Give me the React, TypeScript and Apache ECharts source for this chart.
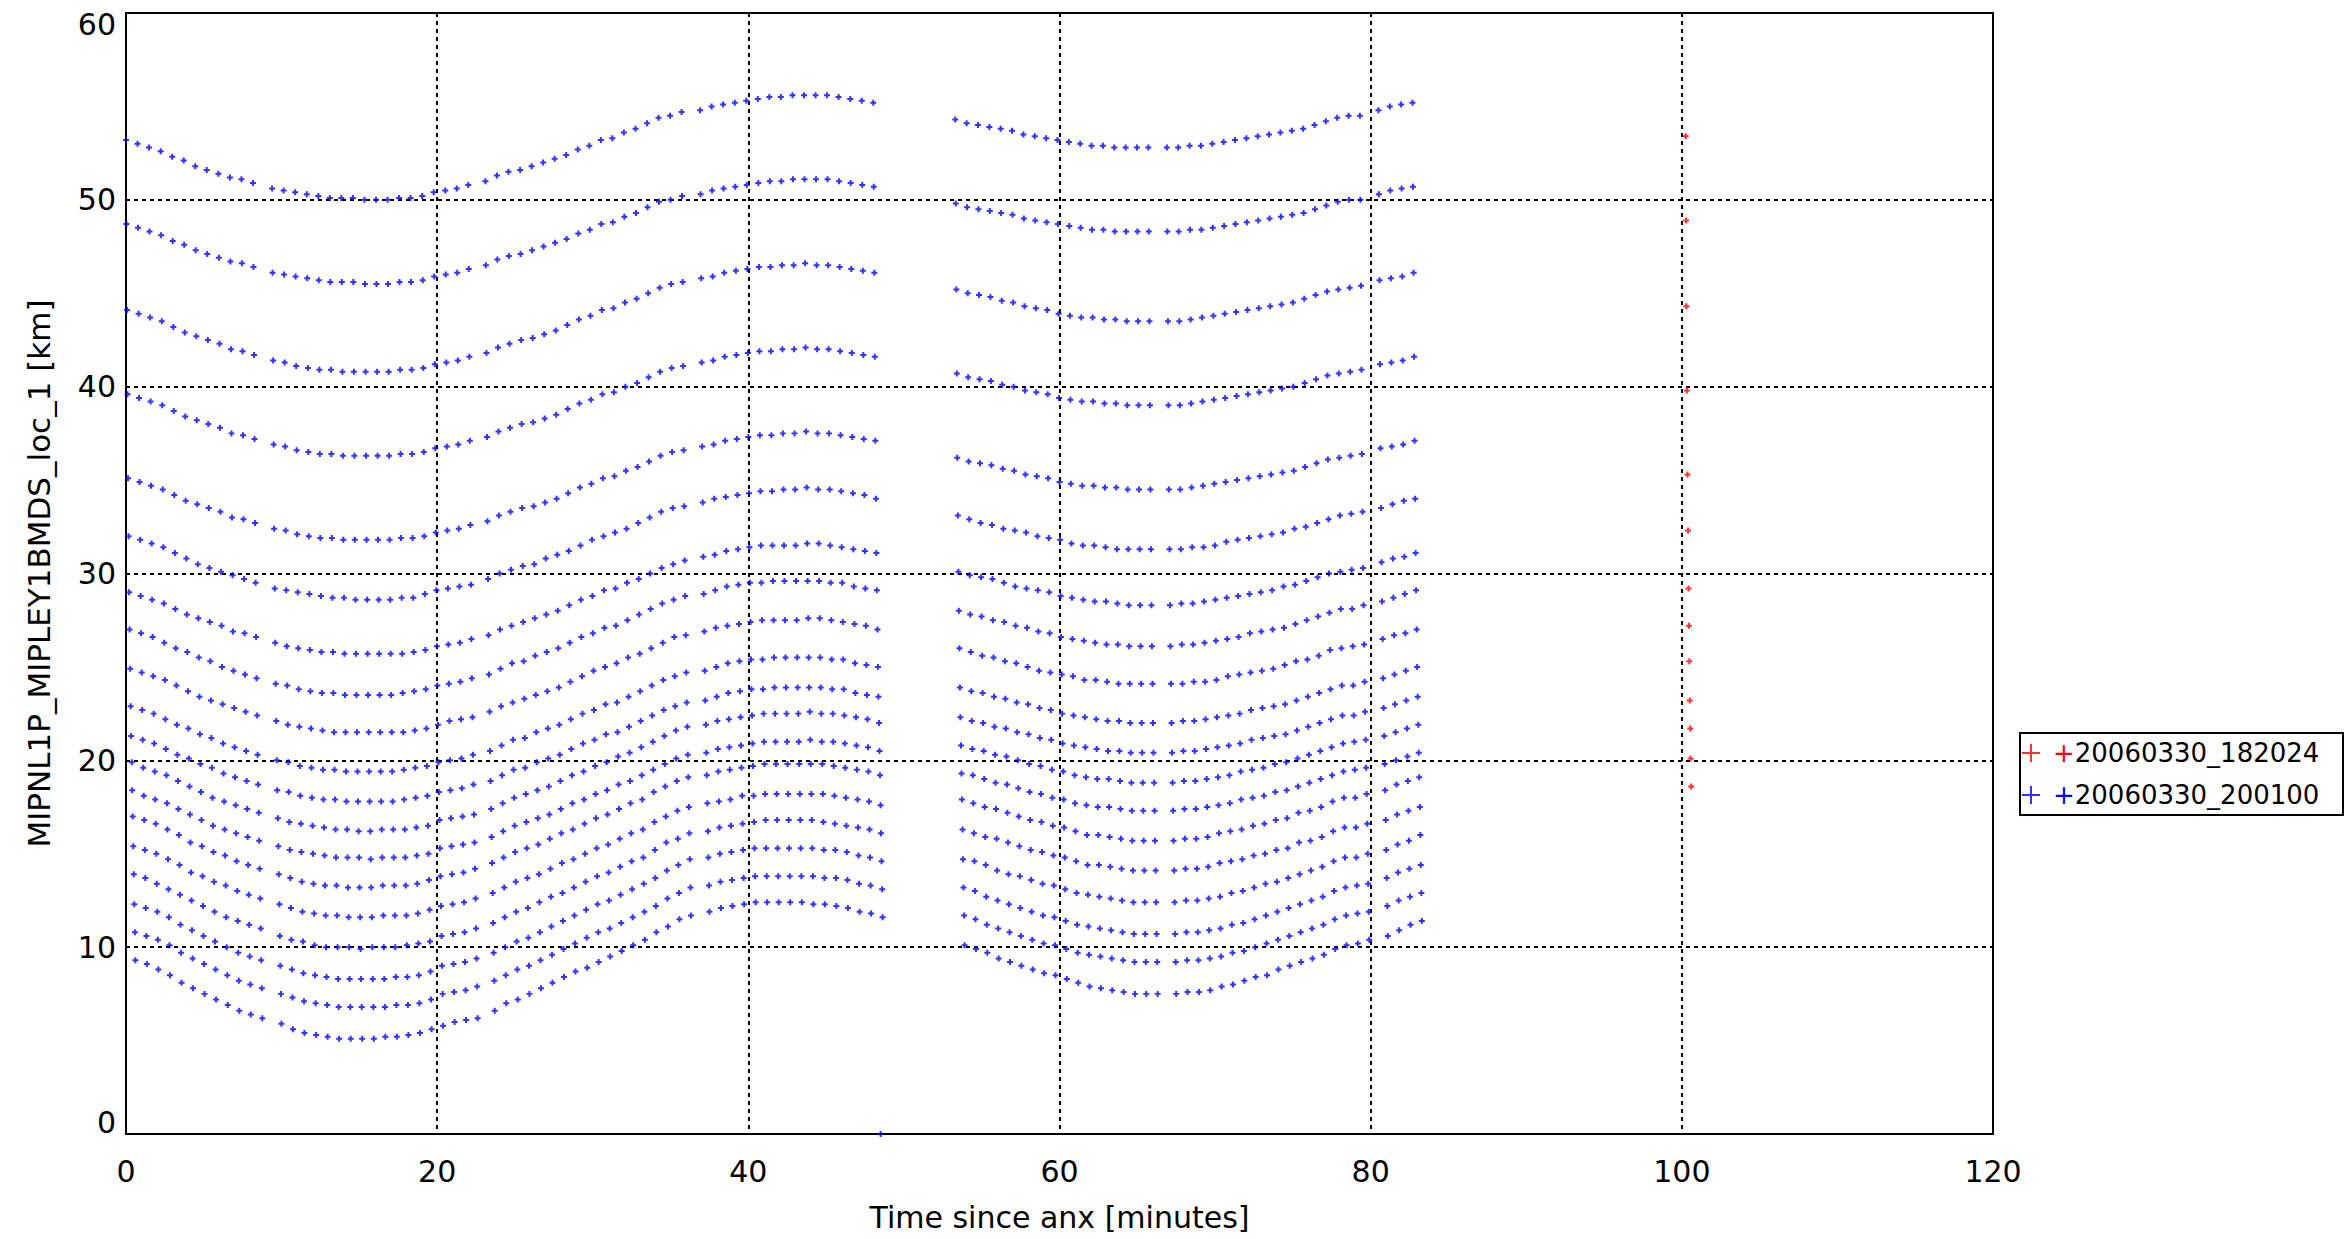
import React, { useEffect, useRef } from "react";
import * as echarts from "echarts";

// Scan start times (minutes since ANX) for the 20060330_200100 orbit
const scanTimes = [
  0.0, 0.74, 1.48, 2.23, 2.97, 3.71, 4.45, 5.19, 5.94, 6.68, 7.42, 8.16,
  9.39, 10.13, 10.87, 11.62, 12.36, 13.1, 13.84, 14.58, 15.33, 16.07, 16.81, 17.55, 18.29, 19.04, 19.78, 20.52, 21.26, 22.0,
  23.1, 23.84, 24.58, 25.33, 26.07, 26.81, 27.55, 28.29, 29.04, 29.78, 30.52, 31.26, 32.0, 32.75, 33.49, 34.23, 34.97, 35.71,
  36.9, 37.64, 38.38, 39.13, 39.87, 40.61, 41.35, 42.09, 42.84, 43.58, 44.32, 45.06, 45.8, 46.55, 47.29, 48.03,
  53.3, 54.03, 54.76, 55.49, 56.22, 56.95, 57.68, 58.41, 59.14, 59.87, 60.6, 61.33, 62.06, 62.79, 63.52, 64.25, 64.98, 65.71,
  66.9, 67.63, 68.36, 69.09, 69.82, 70.55, 71.28, 72.01, 72.74, 73.47, 74.2, 74.93, 75.66, 76.39, 77.12, 77.85, 78.58, 79.31,
  80.5, 81.23, 81.96, 82.69,
];

// Delay of each sweep (top to bottom) inside a scan, minutes
const sweepDelay = [0, 0.03, 0.07, 0.1, 0.13, 0.17, 0.2, 0.23, 0.27, 0.3, 0.33, 0.37, 0.4, 0.43, 0.47, 0.5, 0.53, 0.57, 0.6];

// Tangent altitudes [km] of each sweep, one value per scan
const alt01 = [
  53.2, 53.0, 52.8, 52.6, 52.3, 52.1, 51.8, 51.6, 51.4, 51.2, 51.1, 50.9,
  50.6, 50.5, 50.4, 50.3, 50.2, 50.1, 50.1, 50.1, 50.0, 50.0, 50.0, 50.1, 50.1, 50.2, 50.4, 50.5, 50.6, 50.8,
  51.0, 51.3, 51.5, 51.6, 51.8, 52.0, 52.2, 52.4, 52.7, 52.9, 53.2, 53.3, 53.6, 53.8, 54.1, 54.4, 54.5, 54.7,
  54.8, 55.0, 55.1, 55.2, 55.3, 55.4, 55.5, 55.5, 55.6, 55.6, 55.6, 55.6, 55.5, 55.4, 55.3, 55.2,
  54.3, 54.1, 54.0, 53.9, 53.8, 53.7, 53.5, 53.4, 53.3, 53.2, 53.1, 53.0, 52.9, 52.9, 52.8, 52.8, 52.8, 52.8,
  52.8, 52.8, 52.9, 52.9, 53.0, 53.1, 53.2, 53.3, 53.4, 53.5, 53.6, 53.7, 53.8, 54.0, 54.2, 54.4, 54.5, 54.5,
  54.8, 55.0, 55.1, 55.2,
];
const alt02 = [
  48.7, 48.5, 48.3, 48.1, 47.8, 47.6, 47.3, 47.1, 46.9, 46.7, 46.6, 46.4,
  46.1, 46.0, 45.9, 45.8, 45.7, 45.6, 45.6, 45.6, 45.5, 45.5, 45.5, 45.6, 45.6, 45.7, 45.9, 46.0, 46.1, 46.3,
  46.5, 46.8, 47.0, 47.1, 47.3, 47.5, 47.7, 47.9, 48.2, 48.4, 48.7, 48.8, 49.1, 49.3, 49.6, 49.9, 50.0, 50.2,
  50.3, 50.5, 50.6, 50.7, 50.8, 50.9, 51.0, 51.0, 51.1, 51.1, 51.1, 51.1, 51.0, 50.9, 50.8, 50.7,
  49.8, 49.6, 49.5, 49.4, 49.3, 49.2, 49.0, 48.9, 48.8, 48.7, 48.6, 48.5, 48.4, 48.4, 48.3, 48.3, 48.3, 48.3,
  48.3, 48.3, 48.4, 48.4, 48.5, 48.6, 48.7, 48.8, 48.9, 49.0, 49.1, 49.2, 49.3, 49.5, 49.7, 49.9, 50.0, 50.0,
  50.3, 50.5, 50.6, 50.7,
];
const alt03 = [
  44.1, 43.9, 43.7, 43.5, 43.2, 42.9, 42.7, 42.5, 42.3, 42.0, 41.9, 41.7,
  41.4, 41.3, 41.1, 41.0, 40.9, 40.9, 40.8, 40.8, 40.8, 40.8, 40.8, 40.9, 40.9, 41.0, 41.2, 41.3, 41.4, 41.6,
  41.8, 42.1, 42.3, 42.5, 42.6, 42.8, 43.0, 43.3, 43.6, 43.8, 44.1, 44.2, 44.5, 44.7, 45.0, 45.3, 45.5, 45.6,
  45.8, 45.9, 46.1, 46.2, 46.3, 46.4, 46.4, 46.5, 46.5, 46.6, 46.5, 46.5, 46.4, 46.3, 46.2, 46.1,
  45.2, 45.0, 44.9, 44.8, 44.6, 44.5, 44.3, 44.2, 44.1, 43.9, 43.8, 43.7, 43.7, 43.6, 43.6, 43.5, 43.5, 43.5,
  43.5, 43.5, 43.6, 43.7, 43.8, 43.9, 44.0, 44.1, 44.2, 44.3, 44.4, 44.5, 44.7, 44.9, 45.1, 45.2, 45.3, 45.4,
  45.7, 45.8, 45.9, 46.1,
];
const alt04 = [
  39.6, 39.4, 39.2, 39.0, 38.7, 38.4, 38.2, 38.0, 37.8, 37.5, 37.4, 37.2,
  36.9, 36.8, 36.6, 36.5, 36.4, 36.4, 36.3, 36.3, 36.3, 36.3, 36.3, 36.4, 36.4, 36.5, 36.7, 36.8, 36.9, 37.1,
  37.3, 37.6, 37.8, 38.0, 38.1, 38.3, 38.5, 38.8, 39.1, 39.3, 39.6, 39.7, 40.0, 40.2, 40.5, 40.8, 41.0, 41.1,
  41.3, 41.4, 41.6, 41.7, 41.8, 41.9, 41.9, 42.0, 42.0, 42.1, 42.0, 42.0, 41.9, 41.8, 41.7, 41.6,
  40.7, 40.5, 40.4, 40.3, 40.1, 40.0, 39.8, 39.7, 39.6, 39.4, 39.3, 39.2, 39.2, 39.1, 39.1, 39.0, 39.0, 39.0,
  39.0, 39.0, 39.1, 39.2, 39.3, 39.4, 39.5, 39.6, 39.7, 39.8, 39.9, 40.0, 40.2, 40.4, 40.6, 40.7, 40.8, 40.9,
  41.2, 41.3, 41.4, 41.6,
];
const alt05 = [
  35.1, 34.9, 34.7, 34.5, 34.2, 33.9, 33.7, 33.5, 33.3, 33.0, 32.9, 32.7,
  32.4, 32.3, 32.1, 32.0, 31.9, 31.9, 31.8, 31.8, 31.8, 31.8, 31.8, 31.9, 31.9, 32.0, 32.2, 32.3, 32.4, 32.6,
  32.8, 33.1, 33.3, 33.5, 33.6, 33.8, 34.0, 34.3, 34.6, 34.8, 35.1, 35.2, 35.5, 35.7, 36.0, 36.3, 36.5, 36.6,
  36.8, 36.9, 37.1, 37.2, 37.3, 37.4, 37.4, 37.5, 37.5, 37.6, 37.5, 37.5, 37.4, 37.3, 37.2, 37.1,
  36.2, 36.0, 35.9, 35.8, 35.6, 35.5, 35.3, 35.2, 35.1, 34.9, 34.8, 34.7, 34.7, 34.6, 34.6, 34.5, 34.5, 34.5,
  34.5, 34.5, 34.6, 34.7, 34.8, 34.9, 35.0, 35.1, 35.2, 35.3, 35.4, 35.5, 35.7, 35.9, 36.1, 36.2, 36.3, 36.4,
  36.7, 36.8, 36.9, 37.1,
];
const alt06 = [
  32.0, 31.8, 31.6, 31.4, 31.1, 30.8, 30.5, 30.3, 30.1, 29.9, 29.7, 29.5,
  29.2, 29.1, 29.0, 28.9, 28.8, 28.7, 28.7, 28.6, 28.6, 28.6, 28.6, 28.7, 28.7, 28.9, 29.1, 29.2, 29.3, 29.4,
  29.7, 30.0, 30.2, 30.4, 30.5, 30.8, 31.0, 31.2, 31.5, 31.8, 32.0, 32.2, 32.4, 32.7, 33.0, 33.3, 33.5, 33.6,
  33.8, 34.0, 34.1, 34.2, 34.3, 34.4, 34.4, 34.5, 34.5, 34.6, 34.5, 34.5, 34.4, 34.3, 34.2, 34.0,
  33.1, 32.9, 32.7, 32.6, 32.4, 32.3, 32.2, 32.0, 31.9, 31.8, 31.6, 31.5, 31.5, 31.4, 31.3, 31.3, 31.3, 31.3,
  31.3, 31.3, 31.4, 31.4, 31.5, 31.7, 31.8, 31.9, 32.0, 32.1, 32.2, 32.4, 32.5, 32.7, 32.9, 33.1, 33.2, 33.3,
  33.5, 33.7, 33.9, 34.0,
];
const alt07 = [
  29.0, 28.8, 28.6, 28.4, 28.1, 27.8, 27.6, 27.4, 27.2, 26.9, 26.8, 26.6,
  26.3, 26.1, 26.0, 25.9, 25.8, 25.8, 25.7, 25.7, 25.7, 25.7, 25.7, 25.7, 25.8, 25.9, 26.1, 26.2, 26.3, 26.5,
  26.7, 27.0, 27.2, 27.4, 27.6, 27.8, 28.0, 28.3, 28.6, 28.8, 29.1, 29.2, 29.5, 29.7, 30.0, 30.3, 30.5, 30.7,
  30.9, 31.0, 31.2, 31.3, 31.4, 31.5, 31.5, 31.5, 31.5, 31.6, 31.6, 31.5, 31.4, 31.3, 31.2, 31.1,
  30.1, 29.9, 29.8, 29.7, 29.5, 29.3, 29.2, 29.1, 29.0, 28.8, 28.7, 28.6, 28.5, 28.5, 28.4, 28.3, 28.3, 28.3,
  28.3, 28.4, 28.4, 28.5, 28.6, 28.7, 28.8, 28.9, 29.0, 29.1, 29.3, 29.4, 29.6, 29.8, 30.0, 30.1, 30.2, 30.3,
  30.6, 30.8, 30.9, 31.1,
];
const alt08 = [
  27.0, 26.8, 26.6, 26.3, 26.0, 25.8, 25.5, 25.3, 25.0, 24.8, 24.6, 24.4,
  24.1, 24.0, 23.8, 23.7, 23.6, 23.6, 23.5, 23.5, 23.5, 23.5, 23.5, 23.6, 23.7, 23.8, 24.0, 24.1, 24.2, 24.4,
  24.6, 24.9, 25.2, 25.3, 25.6, 25.8, 26.0, 26.3, 26.6, 26.8, 27.1, 27.2, 27.5, 27.8, 28.1, 28.4, 28.6, 28.8,
  28.9, 29.1, 29.3, 29.4, 29.5, 29.5, 29.6, 29.6, 29.6, 29.6, 29.6, 29.5, 29.5, 29.3, 29.2, 29.1,
  28.0, 27.8, 27.7, 27.5, 27.4, 27.2, 27.1, 26.9, 26.8, 26.6, 26.5, 26.4, 26.3, 26.2, 26.2, 26.1, 26.1, 26.1,
  26.1, 26.2, 26.2, 26.3, 26.4, 26.5, 26.6, 26.8, 26.9, 27.0, 27.1, 27.3, 27.5, 27.7, 27.9, 28.1, 28.1, 28.3,
  28.5, 28.7, 28.9, 29.1,
];
const alt09 = [
  24.9, 24.7, 24.5, 24.3, 24.0, 23.7, 23.4, 23.2, 23.0, 22.8, 22.6, 22.4,
  22.1, 21.9, 21.8, 21.7, 21.6, 21.5, 21.5, 21.5, 21.5, 21.5, 21.5, 21.5, 21.6, 21.7, 21.9, 22.1, 22.2, 22.3,
  22.6, 22.9, 23.1, 23.3, 23.5, 23.7, 23.9, 24.2, 24.5, 24.8, 25.0, 25.2, 25.5, 25.7, 26.0, 26.3, 26.6, 26.7,
  26.9, 27.1, 27.2, 27.3, 27.4, 27.5, 27.5, 27.5, 27.5, 27.6, 27.6, 27.5, 27.4, 27.3, 27.2, 27.0,
  26.0, 25.8, 25.6, 25.5, 25.3, 25.2, 25.0, 24.8, 24.7, 24.6, 24.5, 24.3, 24.3, 24.2, 24.1, 24.1, 24.1, 24.1,
  24.1, 24.1, 24.2, 24.2, 24.3, 24.5, 24.6, 24.7, 24.8, 24.9, 25.1, 25.3, 25.4, 25.6, 25.9, 26.0, 26.1, 26.2,
  26.5, 26.7, 26.8, 27.0,
];
const alt10 = [
  22.9, 22.7, 22.5, 22.2, 21.9, 21.7, 21.4, 21.2, 20.9, 20.7, 20.5, 20.3,
  20.0, 19.9, 19.7, 19.6, 19.5, 19.5, 19.4, 19.4, 19.4, 19.4, 19.4, 19.5, 19.6, 19.7, 19.9, 20.0, 20.1, 20.3,
  20.5, 20.8, 21.1, 21.2, 21.5, 21.7, 21.9, 22.2, 22.5, 22.7, 23.0, 23.1, 23.4, 23.7, 24.0, 24.3, 24.5, 24.7,
  24.8, 25.0, 25.2, 25.3, 25.4, 25.4, 25.5, 25.5, 25.5, 25.5, 25.5, 25.4, 25.4, 25.2, 25.1, 25.0,
  23.9, 23.7, 23.6, 23.4, 23.3, 23.1, 23.0, 22.8, 22.7, 22.5, 22.4, 22.3, 22.2, 22.1, 22.1, 22.0, 22.0, 22.0,
  22.0, 22.1, 22.1, 22.2, 22.3, 22.4, 22.5, 22.7, 22.8, 22.9, 23.0, 23.2, 23.4, 23.6, 23.8, 24.0, 24.0, 24.2,
  24.4, 24.6, 24.8, 25.0,
];
const alt11 = [
  21.3, 21.1, 20.9, 20.6, 20.3, 20.1, 19.8, 19.6, 19.3, 19.1, 18.9, 18.7,
  18.4, 18.3, 18.1, 18.0, 17.9, 17.9, 17.8, 17.8, 17.8, 17.8, 17.8, 17.9, 18.0, 18.1, 18.3, 18.4, 18.5, 18.7,
  18.9, 19.2, 19.5, 19.6, 19.9, 20.1, 20.3, 20.6, 20.9, 21.1, 21.4, 21.5, 21.8, 22.1, 22.4, 22.7, 22.9, 23.1,
  23.2, 23.4, 23.6, 23.7, 23.8, 23.8, 23.9, 23.9, 23.9, 23.9, 23.9, 23.8, 23.8, 23.6, 23.5, 23.4,
  22.3, 22.1, 22.0, 21.8, 21.7, 21.5, 21.4, 21.2, 21.1, 20.9, 20.8, 20.7, 20.6, 20.5, 20.5, 20.4, 20.4, 20.4,
  20.4, 20.5, 20.5, 20.6, 20.7, 20.8, 20.9, 21.1, 21.2, 21.3, 21.4, 21.6, 21.8, 22.0, 22.2, 22.4, 22.4, 22.6,
  22.8, 23.0, 23.2, 23.4,
];
const alt12 = [
  19.9, 19.6, 19.4, 19.2, 18.9, 18.6, 18.3, 18.0, 17.8, 17.6, 17.4, 17.2,
  16.9, 16.7, 16.6, 16.5, 16.4, 16.3, 16.3, 16.2, 16.2, 16.3, 16.3, 16.3, 16.4, 16.5, 16.8, 16.9, 17.0, 17.1,
  17.4, 17.7, 18.0, 18.2, 18.4, 18.6, 18.9, 19.2, 19.4, 19.7, 19.9, 20.2, 20.4, 20.7, 21.0, 21.3, 21.6, 21.8,
  21.9, 22.1, 22.2, 22.3, 22.4, 22.5, 22.5, 22.5, 22.5, 22.6, 22.5, 22.5, 22.4, 22.3, 22.2, 22.0,
  20.8, 20.6, 20.5, 20.3, 20.2, 20.0, 19.8, 19.7, 19.5, 19.4, 19.2, 19.1, 19.0, 19.0, 18.9, 18.8, 18.8, 18.8,
  18.8, 18.9, 18.9, 19.0, 19.1, 19.2, 19.4, 19.5, 19.6, 19.8, 19.9, 20.1, 20.3, 20.5, 20.7, 20.9, 21.0, 21.1,
  21.3, 21.5, 21.7, 21.9,
];
const alt13 = [
  18.4, 18.1, 17.9, 17.7, 17.4, 17.1, 16.8, 16.5, 16.3, 16.1, 15.9, 15.7,
  15.4, 15.2, 15.1, 15.0, 14.9, 14.8, 14.8, 14.8, 14.7, 14.8, 14.8, 14.8, 14.9, 15.0, 15.3, 15.4, 15.5, 15.6,
  15.9, 16.2, 16.5, 16.7, 16.9, 17.1, 17.4, 17.7, 17.9, 18.2, 18.4, 18.7, 18.9, 19.2, 19.5, 19.8, 20.1, 20.3,
  20.4, 20.6, 20.7, 20.8, 20.9, 21.0, 21.0, 21.0, 21.0, 21.1, 21.0, 21.0, 20.9, 20.8, 20.7, 20.5,
  19.3, 19.2, 19.0, 18.8, 18.7, 18.5, 18.3, 18.2, 18.0, 17.9, 17.7, 17.6, 17.5, 17.5, 17.4, 17.3, 17.3, 17.3,
  17.3, 17.4, 17.4, 17.5, 17.6, 17.7, 17.9, 18.0, 18.1, 18.3, 18.4, 18.6, 18.8, 19.0, 19.2, 19.4, 19.5, 19.6,
  19.8, 20.0, 20.2, 20.4,
];
const alt14 = [
  17.0, 16.8, 16.6, 16.3, 16.0, 15.6, 15.4, 15.1, 14.9, 14.6, 14.4, 14.2,
  13.9, 13.7, 13.5, 13.4, 13.3, 13.3, 13.2, 13.2, 13.2, 13.3, 13.3, 13.3, 13.4, 13.6, 13.8, 13.9, 14.0, 14.2,
  14.5, 14.8, 15.1, 15.3, 15.5, 15.8, 16.1, 16.3, 16.6, 16.9, 17.1, 17.4, 17.7, 17.9, 18.3, 18.6, 18.9, 19.1,
  19.2, 19.4, 19.5, 19.6, 19.7, 19.8, 19.8, 19.8, 19.8, 19.8, 19.8, 19.7, 19.6, 19.5, 19.4, 19.2,
  17.9, 17.7, 17.5, 17.4, 17.2, 17.0, 16.8, 16.7, 16.5, 16.4, 16.2, 16.0, 16.0, 15.9, 15.8, 15.7, 15.7, 15.7,
  15.7, 15.8, 15.8, 15.9, 16.1, 16.2, 16.3, 16.5, 16.6, 16.8, 16.9, 17.2, 17.3, 17.5, 17.8, 18.0, 18.0, 18.2,
  18.4, 18.7, 18.9, 19.1,
];
const alt15 = [
  15.4, 15.2, 15.0, 14.7, 14.4, 14.0, 13.8, 13.5, 13.3, 13.0, 12.8, 12.6,
  12.3, 12.1, 11.9, 11.8, 11.7, 11.7, 11.6, 11.6, 11.6, 11.7, 11.7, 11.7, 11.8, 12.0, 12.2, 12.3, 12.4, 12.6,
  12.9, 13.2, 13.5, 13.7, 13.9, 14.2, 14.5, 14.7, 15.0, 15.3, 15.5, 15.8, 16.1, 16.3, 16.7, 17.0, 17.3, 17.5,
  17.7, 17.8, 17.9, 18.1, 18.1, 18.2, 18.2, 18.2, 18.2, 18.2, 18.2, 18.1, 18.0, 17.9, 17.8, 17.6,
  16.3, 16.1, 15.9, 15.8, 15.6, 15.4, 15.2, 15.1, 14.9, 14.8, 14.6, 14.4, 14.4, 14.3, 14.2, 14.1, 14.1, 14.1,
  14.1, 14.2, 14.2, 14.3, 14.5, 14.6, 14.7, 14.9, 15.0, 15.2, 15.3, 15.6, 15.7, 15.9, 16.2, 16.4, 16.4, 16.6,
  16.8, 17.1, 17.3, 17.5,
];
const alt16 = [
  13.9, 13.7, 13.4, 13.1, 12.8, 12.5, 12.2, 11.9, 11.6, 11.4, 11.2, 11.0,
  10.6, 10.4, 10.3, 10.1, 10.0, 10.0, 10.0, 9.9, 10.0, 10.0, 10.0, 10.1, 10.2, 10.3, 10.6, 10.7, 10.8, 11.0,
  11.3, 11.6, 11.9, 12.1, 12.4, 12.7, 12.9, 13.2, 13.5, 13.8, 14.0, 14.3, 14.6, 14.8, 15.2, 15.6, 15.8, 16.1,
  16.2, 16.4, 16.5, 16.6, 16.7, 16.8, 16.8, 16.8, 16.8, 16.8, 16.7, 16.6, 16.5, 16.4, 16.3, 16.1,
  14.7, 14.6, 14.4, 14.1, 13.9, 13.8, 13.6, 13.4, 13.3, 13.1, 12.9, 12.8, 12.7, 12.6, 12.5, 12.4, 12.4, 12.4,
  12.4, 12.5, 12.5, 12.6, 12.7, 12.9, 13.0, 13.2, 13.4, 13.5, 13.7, 13.9, 14.1, 14.3, 14.6, 14.8, 14.8, 15.0,
  15.2, 15.5, 15.7, 16.0,
];
const alt17 = [
  12.3, 12.1, 11.9, 11.6, 11.2, 10.9, 10.6, 10.3, 10.0, 9.7, 9.5, 9.3,
  9.0, 8.8, 8.6, 8.5, 8.4, 8.3, 8.3, 8.3, 8.3, 8.3, 8.4, 8.4, 8.5, 8.7, 9.0, 9.1, 9.2, 9.4,
  9.7, 10.0, 10.3, 10.5, 10.8, 11.1, 11.4, 11.7, 12.0, 12.3, 12.5, 12.8, 13.1, 13.4, 13.7, 14.1, 14.4, 14.7,
  14.8, 15.0, 15.1, 15.2, 15.3, 15.3, 15.3, 15.3, 15.3, 15.3, 15.2, 15.2, 15.1, 14.9, 14.8, 14.6,
  13.2, 13.0, 12.7, 12.5, 12.3, 12.1, 11.9, 11.7, 11.6, 11.4, 11.2, 11.1, 11.0, 10.9, 10.8, 10.7, 10.7, 10.7,
  10.7, 10.8, 10.8, 10.9, 11.0, 11.2, 11.3, 11.5, 11.7, 11.9, 12.1, 12.3, 12.5, 12.7, 13.0, 13.2, 13.3, 13.4,
  13.7, 14.0, 14.2, 14.4,
];
const alt18 = [
  10.8, 10.6, 10.4, 10.1, 9.7, 9.4, 9.1, 8.8, 8.5, 8.2, 8.0, 7.8,
  7.5, 7.3, 7.1, 7.0, 6.9, 6.8, 6.8, 6.8, 6.8, 6.8, 6.9, 6.9, 7.0, 7.2, 7.5, 7.6, 7.7, 7.9,
  8.2, 8.5, 8.8, 9.0, 9.3, 9.6, 9.9, 10.2, 10.5, 10.8, 11.0, 11.3, 11.6, 11.9, 12.2, 12.6, 12.9, 13.2,
  13.3, 13.5, 13.6, 13.7, 13.8, 13.8, 13.8, 13.8, 13.8, 13.8, 13.7, 13.7, 13.6, 13.4, 13.3, 13.1,
  11.7, 11.5, 11.2, 11.0, 10.8, 10.6, 10.4, 10.2, 10.1, 9.9, 9.7, 9.6, 9.5, 9.4, 9.3, 9.2, 9.2, 9.2,
  9.2, 9.3, 9.3, 9.4, 9.5, 9.7, 9.8, 10.0, 10.2, 10.4, 10.6, 10.8, 11.0, 11.2, 11.5, 11.7, 11.8, 11.9,
  12.2, 12.5, 12.7, 12.9,
];
const alt19 = [
  9.3, 9.1, 8.8, 8.5, 8.1, 7.8, 7.5, 7.2, 6.9, 6.6, 6.4, 6.2,
  5.9, 5.6, 5.4, 5.3, 5.2, 5.1, 5.1, 5.1, 5.1, 5.2, 5.2, 5.3, 5.4, 5.6, 5.8, 6.0, 6.1, 6.2,
  6.6, 7.0, 7.2, 7.5, 7.8, 8.1, 8.4, 8.7, 8.9, 9.2, 9.5, 9.8, 10.1, 10.4, 10.8, 11.1, 11.5, 11.7,
  11.9, 12.1, 12.2, 12.3, 12.4, 12.4, 12.4, 12.4, 12.4, 12.3, 12.3, 12.2, 12.1, 11.9, 11.8, 11.6,
  10.1, 9.9, 9.7, 9.4, 9.2, 9.0, 8.8, 8.6, 8.5, 8.3, 8.1, 7.9, 7.8, 7.7, 7.6, 7.5, 7.5, 7.5,
  7.5, 7.6, 7.6, 7.7, 7.9, 8.0, 8.2, 8.4, 8.5, 8.8, 9.0, 9.2, 9.4, 9.6, 9.9, 10.1, 10.2, 10.4,
  10.6, 10.9, 11.2, 11.4,
];

// A single stray sample of the 200100 orbit lying on the x axis
const strayTimes = [48.5];
const strayAltitudes = [0.0];

// 20060330_182024 orbit: one scan near 100 minutes
const redTimes = [100.25, 100.27, 100.29, 100.32, 100.36, 100.4, 100.43, 100.46, 100.48, 100.51, 100.54, 100.56, 100.6];
const redAltitudes = [53.4, 48.9, 44.3, 39.8, 35.3, 32.3, 29.2, 27.2, 25.3, 23.2, 21.7, 20.1, 18.6];

const RED_NAME = "20060330_182024";
const BLUE_NAME = "20060330_200100";
const FONT = "DejaVu Sans";
const PLUS = "path://M2,0H4V6H2Z M0,2H6V4H0Z";
const LEGEND_PLUS = "path://M8,0H10V18H8Z M0,8H18V10H0Z";

export default function App() {
  const ref = useRef<HTMLDivElement>(null);

  useEffect(() => {
    if (!ref.current) return;
    const chart = echarts.init(ref.current, null, { renderer: "svg" });

    const blueCurves = [
      alt01, alt02, alt03, alt04, alt05, alt06, alt07, alt08, alt09, alt10,
      alt11, alt12, alt13, alt14, alt15, alt16, alt17, alt18, alt19,
    ];
    const blueData: number[][] = [];
    blueCurves.forEach((curve, k) => {
      curve.forEach((v, i) => {
        blueData.push([scanTimes[i] + sweepDelay[k], v]);
      });
    });
    strayTimes.forEach((t, i) => blueData.push([t, strayAltitudes[i]]));
    const redData = redTimes.map((t, i) => [t, redAltitudes[i]]);

    const labelStyle = { fontFamily: FONT, fontSize: 30, color: "#000" };
    const gridLine = { show: true, lineStyle: { color: "#000", type: [4, 4] as any, width: 2 } };

    chart.setOption({
      animation: false,
      backgroundColor: "#fff",
      grid: {
        left: 126,
        right: 352,
        top: 13,
        bottom: 105,
        show: true,
        borderColor: "#000",
        borderWidth: 2,
        backgroundColor: "transparent",
      },
      xAxis: {
        type: "value",
        min: 0,
        max: 120,
        interval: 20,
        axisLine: { show: false },
        axisTick: { show: false },
        splitLine: gridLine,
        axisLabel: { ...labelStyle, margin: 22 },
        name: "Time since anx [minutes]",
        nameLocation: "middle",
        nameGap: 68,
        nameTextStyle: labelStyle,
      },
      yAxis: {
        type: "value",
        min: 0,
        max: 60,
        interval: 10,
        axisLine: { show: false },
        axisTick: { show: false },
        splitLine: gridLine,
        axisLabel: {
          ...labelStyle,
          margin: 10,
          formatter: (v: number) => (v === 60 ? `{top|${v}}` : v === 0 ? `{bot|${v}}` : `{n|${v}}`),
          rich: {
            top: { ...labelStyle, padding: [22, 0, 0, 0] },
            bot: { ...labelStyle, padding: [0, 0, 24, 0] },
            n: { ...labelStyle },
          },
        },
        name: "MIPNL1P_MIPLEY1BMDS_loc_1 [km]",
        nameLocation: "middle",
        nameGap: 72,
        nameTextStyle: { ...labelStyle, fontSize: 31 },
      },
      legend: {
        orient: "vertical",
        left: 2022,
        top: 740,
        padding: 0,
        itemGap: 16,
        itemWidth: 18,
        itemHeight: 18,
        icon: LEGEND_PLUS,
        selectedMode: false,
        data: [RED_NAME, BLUE_NAME],
        formatter: (name: string) => (name === RED_NAME ? `{r|+}{t|${name}}` : `{b|+}{t|${name}}`),
        textStyle: {
          fontFamily: FONT,
          fontSize: 26,
          color: "#000",
          lineHeight: 24,
          rich: {
            r: { fontFamily: FONT, fontSize: 26, color: "#ff0000", lineHeight: 24, padding: [0, 0, 0, 8] },
            b: { fontFamily: FONT, fontSize: 26, color: "#0000ff", lineHeight: 24, padding: [0, 0, 0, 8] },
            t: { fontFamily: FONT, fontSize: 26, color: "#000", lineHeight: 24 },
          },
        },
      },
      graphic: [
        {
          type: "rect",
          silent: true,
          shape: { x: 2020, y: 733, width: 323, height: 82 },
          style: { fill: "none", stroke: "#000", lineWidth: 2 },
        },
      ],
      series: [
        {
          name: RED_NAME,
          type: "scatter",
          data: redData,
          symbol: PLUS,
          symbolSize: 6,
          itemStyle: { color: "#ff0000" },
          clip: true,
        },
        {
          name: BLUE_NAME,
          type: "scatter",
          data: blueData,
          symbol: PLUS,
          symbolSize: 6,
          itemStyle: { color: "#0000ff" },
          clip: true,
        },
      ],
    });

    return () => chart.dispose();
  }, []);

  return (
    <div
      ref={ref}
      style={{ position: "fixed", left: 0, top: 0, width: 2345, height: 1239, background: "#fff" }}
    />
  );
}
